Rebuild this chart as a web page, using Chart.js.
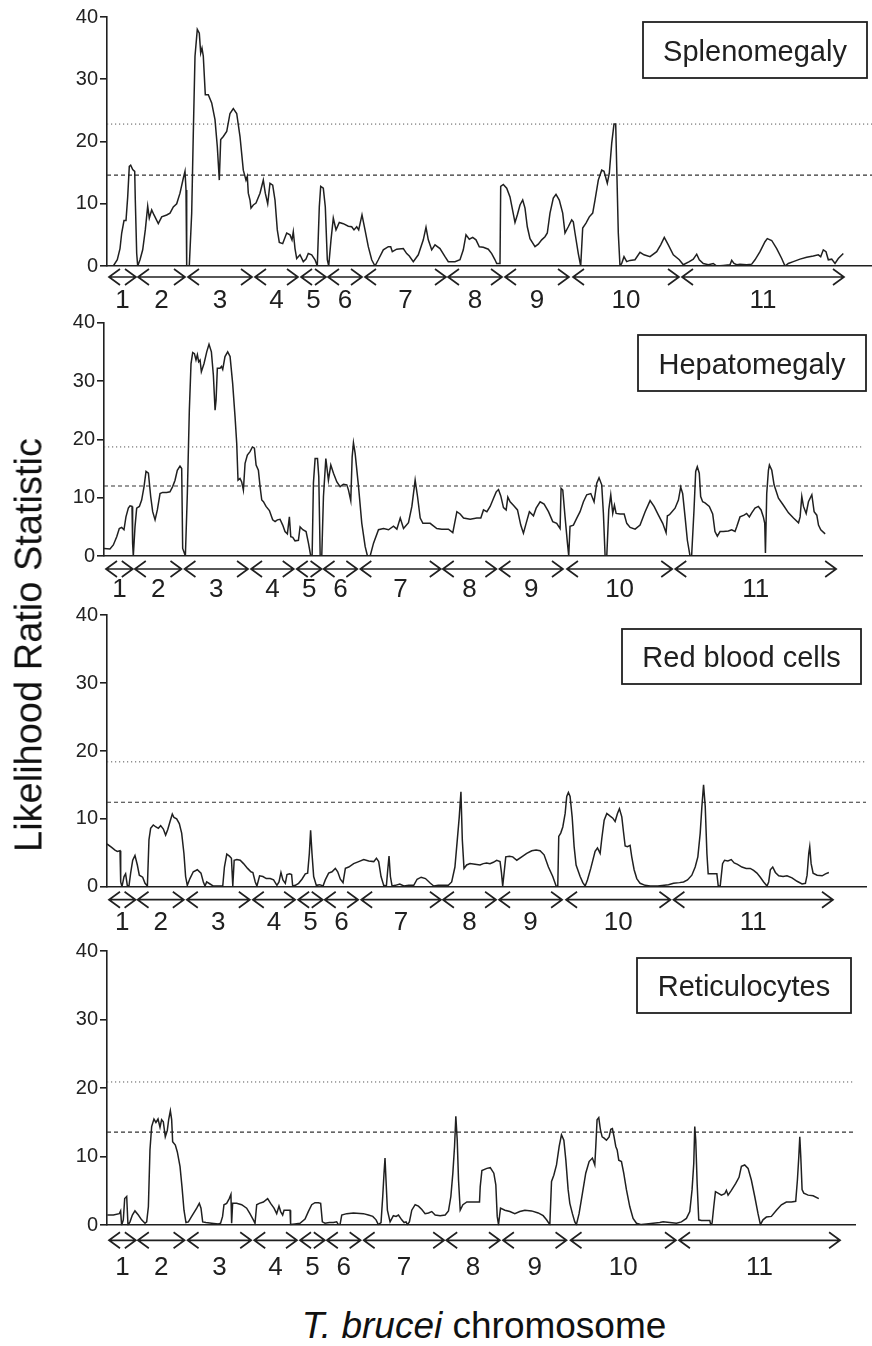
<!DOCTYPE html>
<html>
<head>
<meta charset="utf-8">
<script src="https://cdn.jsdelivr.net/npm/chart.js@4.4.1/dist/chart.umd.min.js"></script>
<style>
  body { margin: 0; background: #fff; }
  #wrap { position: relative; width: 872px; height: 1346px; overflow: hidden; background: #fff; }
  canvas { position: absolute; left: 0; }
  .ytitle { position: absolute; left: 29px; top: 645px; transform: translate(-50%, -50%) rotate(-90deg);
            font: 38px "Liberation Sans", Arial, sans-serif; color: #111; white-space: nowrap; }
  .xtitle { position: absolute; left: 484px; top: 1307px; transform: translateX(-50%);
            font: 37px "Liberation Sans", Arial, sans-serif; line-height: 1; color: #111; white-space: nowrap; }
</style>
</head>
<body>
<div id="wrap">
  <canvas id="c0"></canvas>
  <canvas id="c1"></canvas>
  <canvas id="c2"></canvas>
  <canvas id="c3"></canvas>
  <div class="ytitle">Likelihood Ratio Statistic</div>
  <div class="xtitle"><i>T. brucei</i> chromosome</div>
</div>
<script>
// chromosomes (x = position along the concatenated genome, arbitrary units)
const chromosomes = ['1', '2', '3', '4', '5', '6', '7', '8', '9', '10', '11'];
const chrStart = [2, 31, 81, 148, 194, 221, 258, 341, 398, 466, 575];
const chrEnd   = [29, 78, 145, 191, 219, 255, 339, 395, 462, 572, 737];

const yTicks = [0, 10, 20, 30, 40];
const panelTitles = ['Splenomegaly', 'Hepatomegaly', 'Red blood cells', 'Reticulocytes'];
// threshold lines (dotted upper, dashed lower)
const upperThreshold = [22.8, 18.7, 18.4, 20.9];
const lowerThreshold = [14.6, 12.0, 12.45, 13.6];

// LRS traces, [position, LRS]
const splenomegaly = [[0,0],[6.3,0],[10.3,1.0],[13,2.8],[14.7,5.3],[17,7.3],[19,7.3],[20.7,11.1],[22.3,16.0],[23.7,16.2],[25.7,15.5],[27.7,15.2],[28.3,10.6],[29.7,2.0],[30.7,0],[33,1.0],[35.7,2.6],[38.3,5.8],[40.7,9.6],[42.3,7.7],[44.7,9.0],[47,8.2],[51.3,6.8],[54.7,7.9],[59.7,8.2],[63,8.5],[66.3,9.5],[69.7,10.0],[73,11.7],[76.3,14.1],[78,15.2],[79,12.2],[79.7,0],[82.3,0],[84.7,8.5],[86.3,21.3],[88,33.7],[90.3,38.0],[92.3,37.4],[93.7,34.2],[95,35.0],[96.3,33.7],[98.3,27.5],[101.3,27.5],[104.7,26.2],[108,23.5],[110.3,19.2],[112.3,13.8],[113.7,20.3],[116.3,20.8],[119.7,21.6],[123,24.5],[126.3,25.3],[129.7,24.5],[133,20.8],[136.3,15.4],[139,13.8],[140.3,14.4],[141.3,11.7],[143,10.6],[144,9.3],[146.3,9.8],[149,10.1],[153,11.7],[156.3,13.8],[158.3,11.7],[160.7,10.0],[163,13.3],[165.7,13.0],[168,10.6],[170.3,5.8],[172.3,3.8],[175.7,3.6],[179.7,5.3],[183,5.0],[185,4.2],[186.3,5.5],[188,2.8],[189.7,1.2],[193,1.8],[196.3,0.7],[199,1.1],[201.3,2.0],[204.7,1.8],[208,1.0],[210.3,0],[212.3,9.5],[213.7,12.8],[216.3,12.5],[218.3,9.5],[220.3,1.0],[221.7,0],[224,4.2],[226.3,7.7],[229,5.8],[232.3,7.0],[236.3,6.8],[241.3,6.4],[244.7,6.3],[247,5.8],[249.7,6.3],[251.7,5.8],[255,8.2],[258,5.8],[261.3,3.1],[264.7,1.0],[268,0],[271.3,1.0],[276.3,2.6],[281.3,3.1],[283.7,3.1],[285.3,2.3],[289.7,2.7],[296.3,2.8],[299.7,2.0],[302.3,1.6],[306.3,0.7],[311.3,1.8],[316.3,4.2],[319,6.2],[321.3,4.2],[324.7,2.6],[328,3.4],[333,2.8],[338,1.5],[341.3,0.7],[348,0.7],[353,1.0],[356.3,2.6],[359,5.0],[362.3,4.3],[365.7,4.6],[369,4.2],[372.3,3.1],[376.3,3.0],[381.3,2.7],[384.7,2.0],[388,1.0],[389.7,0.4],[393,0.4],[393.7,12.8],[396.3,13.1],[399.7,12.5],[403,11.1],[408,7.0],[410.3,8.2],[413,9.8],[415.7,10.6],[418,9.3],[420.3,6.3],[423,4.4],[428,3.1],[431.3,3.5],[434.7,4.2],[438,4.7],[440.3,5.3],[443,8.5],[446.3,10.9],[449,11.5],[452.3,10.6],[455.7,8.5],[458,5.3],[461.3,6.3],[464.7,7.4],[466.3,7.1],[468,5.3],[471.3,2.0],[473.7,0],[475.7,6.1],[479,6.9],[482.3,7.9],[485.7,8.5],[488,10.6],[491.3,13.8],[494.7,15.4],[497,15.2],[500.3,13.3],[502.3,14.9],[504.7,19.7],[507,22.8],[508.7,22.8],[509.7,16.0],[511.3,5.3],[513,0],[514.7,0.4],[517,1.5],[519.7,0.7],[523,0.9],[528,1.0],[533,2.2],[537,1.8],[543,1.5],[549.7,2.3],[553.7,3.4],[557.3,4.6],[561.3,3.4],[566.3,1.8],[572.3,1.0],[576.3,0.2],[582.3,0.7],[586.3,1.1],[589.7,1.9],[592.3,1.0],[596.3,0.4],[601.3,0.2],[606.3,0.4],[609.7,0],[616.3,0.1],[623,0.2],[624.7,0.9],[627,0.4],[629.7,0.2],[633,0.3],[639.7,0.2],[644.7,0.3],[648,1.0],[653,2.3],[658,3.9],[660.3,4.4],[664.7,4.1],[669.7,2.8],[674.7,1.2],[678,0],[681.3,0.4],[686.3,0.7],[693,1.1],[699.7,1.4],[706.3,1.6],[711.3,1.8],[713.7,1.5],[716.3,2.6],[719,2.3],[721.3,1.0],[724.7,1.1],[728,0.4],[731.3,1.2],[736.3,2.0]];

const hepatomegaly = [[0,1.3],[6.0,1.2],[9.4,1.9],[12.8,3.3],[15.4,4.7],[17.8,4.9],[20.1,4.5],[22.1,6.7],[24.5,8.2],[26.2,8.6],[28.2,8.5],[28.8,2.2],[29.5,0],[31.2,5.0],[32.9,8.2],[35.6,8.5],[37.9,9.6],[40.3,11.9],[42.3,14.5],[44.7,14.2],[47.0,10.2],[49.0,7.6],[51.4,6.2],[53.7,7.9],[56.4,10.7],[59.0,10.9],[63.1,10.9],[66.4,11.0],[69.1,11.9],[71.5,13.0],[73.8,14.7],[76.5,15.4],[78.2,15.0],[79.2,1.3],[80.5,0.7],[81.9,0],[83.9,10.7],[85.9,25.0],[87.6,33.0],[89.3,34.9],[91.0,34.7],[92.6,33.6],[94.0,34.5],[95.3,33.3],[96.7,33.6],[98.0,31.6],[100.7,33.0],[103.4,35.0],[105.7,36.3],[108.1,35.0],[110.1,31.0],[111.8,25.0],[112.8,26.7],[114.1,32.2],[116.8,32.2],[118.2,32.5],[119.5,32.0],[121.8,34.2],[124.5,35.0],[126.9,34.2],[129.5,29.6],[131.9,23.9],[133.6,19.3],[134.9,13.0],[136.9,13.3],[138.6,12.7],[140.3,11.3],[142.0,15.9],[144.3,17.3],[147.0,17.9],[149.4,18.7],[151.4,18.5],[153.1,15.6],[155.4,14.7],[157.1,11.9],[158.8,9.6],[160.5,9.3],[163.1,8.5],[166.5,7.8],[169.8,6.2],[172.2,5.9],[174.5,6.2],[177.2,6.3],[179.9,5.3],[182.2,4.2],[184.6,3.8],[186.6,6.7],[188.0,3.3],[190.0,3.2],[192.3,2.6],[195.7,2.7],[197.4,5.0],[200.1,4.5],[203.4,4.2],[205.8,2.2],[208.1,0],[209.5,0],[210.8,12.5],[212.5,16.7],[214.9,16.7],[216.2,13.6],[217.6,0],[219.2,0],[220.9,10.2],[223.3,16.7],[225.9,13.0],[228.3,15.6],[231.0,14.2],[234.4,12.7],[237.7,11.9],[241.0,12.3],[244.4,12.2],[246.1,11.3],[248.4,9.5],[249.8,17.0],[251.1,19.4],[252.8,17.6],[256.2,11.9],[259.5,5.6],[262.9,1.6],[265.2,0],[267.9,0],[271.3,2.2],[276.3,4.5],[281.4,4.7],[286.4,4.5],[291.4,5.1],[294.8,4.6],[298.2,6.5],[301.5,4.7],[306.5,5.7],[309.9,8.5],[313.2,13.0],[315.6,10.2],[318.3,6.5],[321.0,5.6],[328.3,5.6],[335.0,4.7],[340.0,4.6],[346.7,4.6],[351.1,4.0],[355.2,7.6],[358.5,7.2],[361.9,6.5],[368.6,6.3],[375.3,6.5],[379.3,6.5],[382.0,7.9],[385.4,7.6],[388.7,8.5],[392.1,9.9],[394.8,11.0],[397.1,11.4],[399.4,10.3],[402.1,8.3],[404.8,7.9],[406.5,10.1],[408.8,9.3],[412.1,8.7],[416.2,7.9],[419.5,5.3],[422.2,3.9],[424.9,5.6],[428.2,7.6],[432.3,6.9],[435.0,8.2],[439.0,9.3],[443.0,8.9],[447.4,7.6],[451.7,5.9],[455.7,5.6],[459.1,4.7],[460.1,11.6],[461.8,11.3],[464.1,6.7],[466.5,2.2],[467.8,0],[469.1,5.1],[472.5,5.3],[475.9,6.5],[479.2,7.6],[482.6,9.3],[485.9,10.5],[490.0,10.7],[493.3,9.3],[496.0,12.5],[498.3,13.4],[501.0,12.2],[502.7,7.3],[504.4,0],[506.1,0],[508.1,7.9],[510.1,10.5],[512.1,7.3],[513.8,8.7],[515.5,7.3],[519.5,7.2],[523.6,7.2],[526.2,5.6],[529.6,4.9],[534.6,4.6],[539.6,5.3],[544.7,7.6],[549.7,9.5],[553.7,8.5],[558.1,7.0],[562.4,5.6],[565.8,4.0],[567.1,6.9],[568.5,7.0],[569.8,7.2],[574.8,8.2],[578.2,9.6],[580.5,11.8],[582.5,10.7],[584.9,6.7],[587.2,2.7],[589.9,0],[591.5,0],[593.9,7.9],[595.6,14.5],[597.2,15.3],[599.2,14.2],[600.6,10.2],[602.6,9.3],[605.0,9.1],[609.3,8.5],[612.7,7.2],[615.0,4.2],[617.4,3.4],[620.1,4.2],[623.4,4.2],[628.5,4.3],[631.8,4.5],[635.2,4.2],[636.9,5.0],[640.2,6.7],[644.3,7.0],[646.9,7.3],[649.6,6.7],[652.0,7.4],[655.3,8.2],[658.7,8.5],[661.4,7.9],[663.7,6.7],[665.1,5.6],[665.8,0.5],[667.1,10.7],[668.8,14.7],[669.8,15.6],[672.2,14.7],[674.5,12.2],[678.9,9.9],[683.9,8.7],[689.0,7.4],[694.0,6.5],[699.1,5.7],[700.7,6.7],[702.4,10.2],[704.1,8.5],[706.8,7.3],[709.1,9.3],[712.5,10.5],[714.8,7.6],[717.5,7.0],[719.2,5.3],[721.5,4.5],[725.9,3.8]];

const redBloodCells = [[0,6.3],[4.7,5.8],[8.1,5.4],[10.5,5.2],[13.2,5.3],[13.9,0.7],[15.2,0],[17.3,1.5],[18.9,1.9],[20.6,0.2],[22.3,0.1],[24.0,2.0],[26.1,3.9],[28.4,4.6],[30.8,3.2],[32.8,1.7],[36.2,1.4],[38.6,0.5],[41.0,0.1],[42.6,6.9],[44.3,8.6],[47.0,9.1],[49.7,8.8],[52.1,8.6],[54.5,9.0],[57.2,8.5],[59.5,7.6],[61.6,8.4],[64.0,9.6],[66.3,10.7],[68.0,10.2],[70.7,10.0],[73.4,9.3],[75.8,7.9],[78.1,4.9],[79.8,1.5],[81.5,0.2],[84.2,1.2],[87.6,2.2],[91.7,2.5],[95.4,2.0],[97.8,0.7],[99.5,0.1],[101.2,0.7],[104.6,0.4],[108.0,0.1],[113.1,0.1],[117.5,0.1],[119.2,2.9],[121.6,4.8],[124.3,4.5],[126.3,4.2],[127.7,0.1],[129.1,3.9],[131.8,4.0],[135.2,3.9],[138.6,3.4],[142.7,2.7],[146.1,2.2],[148.1,2.1],[150.5,0.7],[152.2,0.1],[154.9,1.6],[158.3,1.5],[161.7,1.2],[165.7,1.2],[169.1,1.0],[172.5,0.2],[174.6,0.7],[176.6,2.1],[178.6,1.0],[181.0,0.5],[182.7,1.8],[185.4,1.9],[187.4,1.8],[188.5,0.1],[191.2,0.2],[194.5,0.5],[197.9,1.1],[201.3,1.9],[203.7,2.0],[205.4,4.9],[206.7,8.3],[208.1,4.9],[209.8,1.5],[212.5,0.2],[215.9,0.3],[219.3,0.1],[221.6,1.0],[225.0,2.0],[228.4,2.2],[231.8,2.7],[234.2,2.2],[236.9,1.1],[239.6,0.6],[242.0,2.7],[245.4,2.9],[250.4,3.4],[255.5,3.7],[260.6,4.0],[265.7,3.8],[270.8,3.7],[273.5,4.2],[275.8,3.7],[278.2,1.5],[280.9,0.2],[283.6,0.1],[285.0,2.5],[286.3,4.5],[287.7,1.5],[289.4,0.1],[292.8,0.2],[297.2,0.4],[301.3,0.1],[306.3,0.2],[311.4,0.2],[314.8,1.1],[318.9,1.4],[323.3,1.2],[328.3,0.5],[331.7,0.1],[336.3,0.2],[346.5,0.2],[349.9,0.7],[353.2,2.9],[355.6,6.9],[357.6,10.3],[359.3,14.0],[360.7,6.9],[362.4,2.7],[365.1,3.2],[368.5,3.4],[373.6,3.3],[378.7,3.2],[382.0,3.4],[385.4,3.5],[388.8,3.4],[392.2,3.6],[395.6,3.9],[399.0,3.7],[400.4,2.1],[401.7,0.1],[403.1,2.0],[404.8,4.4],[408.5,4.5],[411.9,4.4],[416.0,3.9],[421.0,4.4],[426.1,4.9],[431.2,5.3],[435.6,5.4],[439.6,5.3],[443.7,4.7],[448.1,2.9],[452.5,1.5],[455.9,0.1],[457.6,0],[458.6,7.4],[460.6,7.9],[462.7,8.8],[465.1,10.8],[466.7,13.3],[468.4,13.9],[470.1,13.3],[472.2,10.3],[474.2,5.9],[476.2,3.2],[480.3,1.5],[483.0,0.6],[485.4,0.1],[487.7,1.0],[491.1,2.7],[495.5,5.2],[497.9,5.7],[500.6,4.9],[502.3,7.1],[504.7,9.8],[507.4,10.8],[510.8,10.4],[513.5,10.1],[515.8,9.6],[518.2,10.8],[520.2,11.5],[522.6,10.3],[524.3,8.1],[526.0,6.0],[528.3,5.9],[531.0,6.1],[532.7,4.4],[535.1,2.5],[537.8,1.2],[541.2,0.5],[546.3,0.2],[551.4,0.1],[559.2,0.1],[570.0,0.3],[575.1,0.5],[581.2,0.6],[585.3,0.7],[589.3,1.0],[593.7,1.7],[597.1,2.9],[599.8,4.4],[602.2,7.9],[603.9,11.8],[605.6,15.0],[607.3,11.8],[609.0,4.9],[610.3,1.9],[613.0,1.9],[619.1,1.9],[620.5,0.1],[622.5,0.1],[624.9,3.4],[626.9,3.9],[630.3,3.8],[633.7,4.0],[636.7,3.5],[640.1,3.3],[644.5,2.9],[648.9,2.7],[653.0,2.7],[656.4,2.4],[659.8,2.0],[663.2,1.4],[666.6,0.7],[670.0,0.1],[671.7,0.7],[673.4,2.5],[675.8,2.9],[678.5,2.1],[681.9,1.6],[686.3,1.5],[690.3,1.6],[695.4,1.3],[700.5,0.8],[705.6,0.4],[709.0,0.5],[710.7,1.7],[712.4,4.9],[713.4,5.9],[714.8,3.4],[716.8,2.0],[720.9,1.7],[726.0,1.6],[729.4,1.9],[732.8,2.1]];

const reticulocytes = [[0.3,1.5],[6.4,1.5],[12.4,1.7],[13.7,2.1],[14.7,0],[16.4,0.8],[17.8,3.9],[19.8,4.2],[21.1,0],[23.1,0.5],[25.5,1.5],[28.1,2.1],[31.5,1.5],[34.8,0.8],[38.2,0.3],[39.9,0.5],[41.6,2.7],[43.2,11.0],[44.9,14.4],[47.2,15.5],[49.2,15.0],[51.3,15.5],[53.3,14.3],[54.9,15.4],[56.6,15.1],[58.6,12.9],[60.6,13.8],[62.0,15.4],[63.7,16.7],[65.0,15.4],[66.0,12.2],[68.7,11.7],[70.7,10.7],[73.4,8.6],[75.4,5.6],[77.4,2.2],[79.4,0.4],[81.8,0.5],[85.1,1.3],[90.2,2.5],[92.8,3.2],[94.5,2.5],[96.2,0.5],[99.5,0.4],[105.2,0.3],[111.9,0.2],[114.2,0.3],[116.2,1.3],[117.6,3.0],[120.3,3.2],[122.9,3.9],[124.6,4.5],[125.3,0.3],[126.3,3.2],[130.3,3.2],[135.4,3.0],[140.4,2.5],[143.7,1.7],[147.1,0.8],[148.8,0.3],[150.5,3.0],[153.1,3.2],[157.2,3.4],[161.5,3.9],[164.5,3.2],[167.9,2.5],[170.6,1.7],[172.9,2.8],[174.6,2.0],[176.6,1.5],[178.0,2.2],[180.6,2.2],[184.0,2.2],[184.6,0.1],[189.0,0.2],[194.0,0.3],[199.1,0.9],[202.4,2.0],[205.8,3.0],[209.1,3.3],[212.5,3.3],[214.8,3.2],[216.5,0.5],[219.2,0.3],[223.5,0.4],[227.6,0.4],[230.9,0.5],[232.6,0.1],[234.3,0.1],[236.0,1.5],[241.0,1.7],[247.7,1.8],[257.7,1.7],[262.8,1.5],[267.2,1.3],[270.5,0.8],[272.8,0.1],[275.5,0.4],[277.2,4.2],[278.5,7.6],[279.5,9.8],[280.5,6.6],[281.9,2.2],[284.6,0.5],[287.9,1.4],[290.6,1.3],[293.0,1.5],[296.3,0.8],[298.7,0.4],[300.7,0.5],[302.0,0.1],[304.0,0.5],[306.4,2.2],[309.8,3.0],[313.1,2.8],[316.5,2.3],[319.8,1.7],[323.2,1.8],[326.5,2.0],[329.9,1.5],[334.9,1.4],[340.0,1.5],[343.3,2.1],[345.7,4.2],[347.7,7.6],[349.4,11.5],[350.7,15.9],[352.1,12.4],[353.4,6.6],[355.1,2.2],[357.8,3.0],[361.8,3.4],[366.8,3.4],[374.5,3.4],[375.2,5.6],[376.9,8.0],[381.9,8.3],[385.3,8.4],[388.9,7.6],[390.9,5.9],[392.3,1.3],[393.6,0.1],[395.6,2.5],[400.0,2.2],[405.0,2.0],[410.0,1.7],[415.0,2.0],[420.1,2.2],[426.8,2.1],[433.5,1.8],[438.5,1.4],[441.9,0.8],[445.2,0.1],[446.9,6.4],[449.2,7.3],[451.9,8.8],[454.6,11.5],[456.9,13.2],[459.3,12.4],[461.3,9.5],[463.6,5.2],[465.3,3.2],[467.9,1.7],[470.3,0.5],[471.9,0.1],[474.6,1.7],[478.0,4.7],[481.3,7.6],[484.7,9.3],[488.0,9.8],[490.4,8.8],[491.4,11.5],[492.7,15.4],[494.4,15.7],[496.1,13.9],[497.8,12.9],[499.8,12.7],[502.1,12.4],[504.8,12.9],[506.5,14.0],[508.1,14.1],[509.8,12.9],[511.5,11.5],[512.9,11.0],[514.5,9.5],[517.2,9.3],[519.5,7.6],[522.2,5.2],[525.6,2.7],[528.9,1.0],[532.3,0.3],[537.3,0.1],[542.3,0.2],[549.0,0.3],[555.7,0.4],[559.1,0.5],[565.8,0.4],[572.5,0.3],[577.5,0.5],[582.5,1.0],[585.9,2.0],[588.2,5.2],[589.9,9.0],[590.9,14.4],[591.9,12.4],[593.3,6.1],[594.9,0.8],[597.6,0.7],[602.6,0.7],[606.0,0.7],[607.0,0.1],[608.3,0.3],[610.0,2.7],[611.7,4.9],[614.3,4.7],[617.7,4.4],[621.0,4.6],[622.7,5.1],[624.4,4.4],[627.7,5.1],[632.1,6.1],[635.4,7.0],[637.8,8.6],[641.1,8.8],[644.5,8.3],[647.8,6.6],[651.2,4.2],[654.5,1.7],[656.9,0.1],[659.5,0.8],[662.9,1.2],[667.9,1.3],[673.0,2.2],[678.0,3.0],[683.0,3.4],[688.1,3.4],[692.4,3.5],[694.1,6.6],[695.5,10.0],[696.5,12.9],[697.5,10.0],[698.8,5.2],[700.5,4.7],[704.9,4.4],[709.9,4.3],[715.6,3.9]];

const traces = [splenomegaly, hepatomegaly, redBloodCells, reticulocytes];

// page geometry of each panel (px)
const panelBoxes = [
  { top: 0,   height: 318, left: 107, right: 872, y40: 17,    y0: 266,    xMax: 765,   arrowDy: 11, labelDy: 42, box: [643, 22, 224, 56] },
  { top: 306, height: 302, left: 104, right: 862, y40: 322.7, y0: 556,    xMax: 763,   arrowDy: 13, labelDy: 41, box: [638, 335, 228, 56] },
  { top: 598, height: 346, left: 107, right: 866, y40: 615.3, y0: 886.7,  xMax: 770.5, arrowDy: 13, labelDy: 43, box: [622, 629, 239, 55] },
  { top: 935, height: 350, left: 107, right: 855, y40: 951,   y0: 1225.3, xMax: 752,   arrowDy: 15, labelDy: 50, box: [637, 958, 214, 55] }
];

const FONT = '"Liberation Sans", Arial, sans-serif';
const INK = '#202020';

// arrows under the axis, chromosome numbers and the title box
const decor = {
  id: 'decor',
  afterDraw(chart, args, opts) {
    const ctx = chart.ctx;
    const xs = chart.scales.x;
    const base = chart.chartArea.bottom;
    const ay = base + opts.arrowDy;
    ctx.save();
    ctx.strokeStyle = INK;
    ctx.fillStyle = INK;
    ctx.lineWidth = 1.7;
    ctx.lineJoin = 'miter';
    for (let i = 0; i < chromosomes.length; i++) {
      const x1 = xs.getPixelForValue(chrStart[i]);
      const x2 = xs.getPixelForValue(chrEnd[i]);
      ctx.beginPath();
      ctx.moveTo(x1, ay); ctx.lineTo(x2, ay);
      ctx.moveTo(x1 + 11, ay - 8); ctx.lineTo(x1, ay); ctx.lineTo(x1 + 11, ay + 8);
      ctx.moveTo(x2 - 11, ay - 8); ctx.lineTo(x2, ay); ctx.lineTo(x2 - 11, ay + 8);
      ctx.stroke();
      ctx.font = '26px ' + FONT;
      ctx.textAlign = 'center';
      ctx.textBaseline = 'alphabetic';
      ctx.fillText(chromosomes[i], (x1 + x2) / 2, base + opts.labelDy);
    }
    const [bx, by, bw, bh] = opts.box;
    const top = by - opts.canvasTop;
    ctx.fillStyle = '#fff';
    ctx.fillRect(bx, top, bw, bh);
    ctx.lineWidth = 1.8;
    ctx.strokeRect(bx, top, bw, bh);
    ctx.fillStyle = INK;
    ctx.font = '29px ' + FONT;
    ctx.textAlign = 'center';
    ctx.fillText(opts.title, bx + bw / 2, top + bh / 2 + 10.5);
    ctx.restore();
  }
};

panelBoxes.forEach((p, i) => {
  const cv = document.getElementById('c' + i);
  cv.width = 872;
  cv.height = p.height;
  cv.style.top = p.top + 'px';

  new Chart(cv.getContext('2d'), {
    type: 'line',
    data: {
      datasets: [
        { data: traces[i], borderColor: INK, borderWidth: 1.5, pointRadius: 0, tension: 0 },
        { data: [[0, upperThreshold[i]], [p.xMax, upperThreshold[i]]], borderColor: '#555',
          borderWidth: 1, borderDash: [1.2, 2.8], pointRadius: 0 },
        { data: [[0, lowerThreshold[i]], [p.xMax, lowerThreshold[i]]], borderColor: '#333',
          borderWidth: 1.2, borderDash: [4, 3], pointRadius: 0 }
      ]
    },
    options: {
      responsive: false,
      animation: false,
      devicePixelRatio: 1,
      layout: {
        padding: { left: 0, right: 872 - p.right, top: p.y40 - p.top, bottom: p.top + p.height - p.y0 }
      },
      plugins: {
        legend: { display: false },
        tooltip: { enabled: false },
        decor: { arrowDy: p.arrowDy, labelDy: p.labelDy, box: p.box, canvasTop: p.top, title: panelTitles[i] }
      },
      scales: {
        x: {
          type: 'linear', min: 0, max: p.xMax,
          ticks: { display: false },
          grid: { display: false },
          border: { color: INK, width: 1.6 },
          afterFit: s => { s.height = 0; }
        },
        y: {
          min: 0, max: 40,
          afterBuildTicks: s => { s.ticks = yTicks.map(v => ({ value: v })); },
          ticks: { color: '#222', font: { family: FONT, size: 20 }, padding: 2 },
          grid: { drawOnChartArea: false, tickLength: 7, color: INK, lineWidth: 1.6 },
          border: { color: INK, width: 1.6 },
          afterFit: s => { s.width = p.left; }
        }
      }
    },
    plugins: [decor]
  });
});
</script>
</body>
</html>
